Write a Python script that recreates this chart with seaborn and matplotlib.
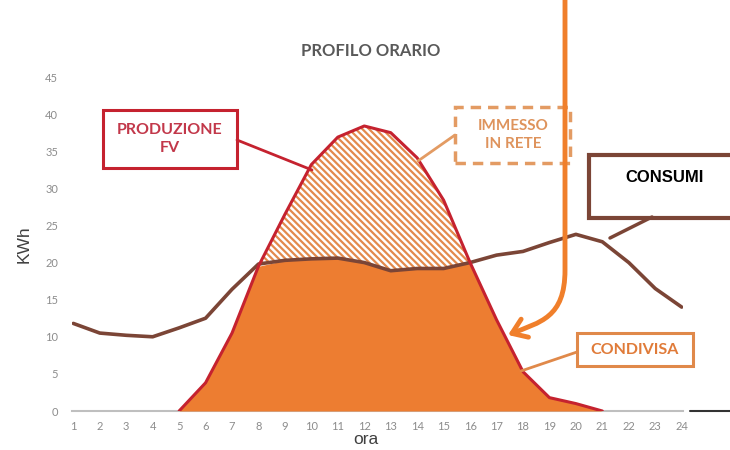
import numpy as np
import pandas as pd
import matplotlib
matplotlib.use("Agg")
import matplotlib.pyplot as plt
import seaborn as sns
from matplotlib.patches import Rectangle, FancyArrowPatch
from matplotlib.path import Path
from matplotlib.lines import Line2D

# ---- data ----
ore = list(range(1, 25))
produzione = [0, 0, 0, 0, 0, 3.8, 10.5, 19.5, 26.5, 33.2, 36.9, 38.4,
              37.5, 34.1, 28.4, 20.0, 12.3, 5.3, 1.8, 1.0, 0, 0, 0, 0]
consumi = [11.8, 10.5, 10.2, 10.0, 11.2, 12.5, 16.4, 19.8, 20.3, 20.5, 20.6, 20.0,
           18.9, 19.2, 19.2, 20.0, 21.0, 21.5, 22.7, 23.8, 22.8, 20.0, 16.5, 14.0]
yticks = list(range(0, 50, 5))
title = "PROFILO ORARIO"

df = pd.DataFrame({"ora": ore, "prod": produzione, "cons": consumi})
x = df["ora"].to_numpy(float)
p = df["prod"].to_numpy(float)
c = df["cons"].to_numpy(float)
shared = np.minimum(p, c)

sns.set_theme(style="white")
plt.rcParams["font.family"] = ["Lato", "DejaVu Sans"]
plt.rcParams["hatch.linewidth"] = 1.6
plt.rcParams["hatch.color"] = "#E38A4C"

W, H = 730, 450
fig = plt.figure(figsize=(7.3, 4.5), dpi=100)
ax = fig.add_axes([72 / W, 1 - 411 / H, (683 - 72) / W, (411 - 77) / H])

def fx(px):
    return px / W
def fy(py):
    return 1 - py / H

# fills
ax.fill_between(x, 0, shared, color="#ED7D31", linewidth=0, zorder=1)
ax.fill_between(x, c, p, where=p > c, interpolate=True, facecolor="white",
                edgecolor="#E38A4C", hatch="\\\\\\\\\\", linewidth=0, zorder=1)

# lines
mask = np.array([(p[i] > 0) or (i > 0 and p[i - 1] > 0) or (i < len(p) - 1 and p[i + 1] > 0)
                 for i in range(len(p))])
dprod = df[mask]
sns.lineplot(data=dprod, x="ora", y="prod", ax=ax, color="#C5222F", linewidth=2.2, zorder=4)
sns.lineplot(data=df, x="ora", y="cons", ax=ax, color="#7B4536", linewidth=2.6, zorder=3)

ax.set_xlim(0.95, 24.05)
ax.set_ylim(0, 45)
ax.set_xticks(ore)
ax.set_yticks(yticks)
ax.tick_params(axis="both", labelsize=8, colors="#8C8C8C", labelcolor="#8C8C8C")
ax.tick_params(axis="x", length=3, width=1, direction="out", pad=4, color="#BFBFBF")
ax.tick_params(axis="y", length=0, pad=10)
for s in ["top", "right", "left"]:
    ax.spines[s].set_visible(False)
ax.spines["bottom"].set_color("#BFBFBF")
ax.spines["bottom"].set_linewidth(1.5)
ax.spines["bottom"].set_zorder(0)
ax.set_xlabel("")
ax.set_ylabel("KWh", fontsize=12.5, color="#404040", family=["Liberation Sans"], labelpad=10)
ax.set_facecolor("none")
fig.text(fx(366), fy(439), "ora", ha="center", va="center", fontsize=12.5,
         color="#404040", family=["Liberation Sans"])

fig.text(fx(371), fy(51), title, ha="center", va="center", fontsize=12,
         fontweight="bold", color="#595959")

# PRODUZIONE FV box
fig.add_artist(Line2D([fx(237), fx(312)], [fy(140), fy(170)], color="#C5222F", lw=2))
fig.add_artist(Rectangle((fx(103), fy(168)), fx(237) - fx(103), fy(110) - fy(168),
                         fill=True, facecolor="white", edgecolor="#C5222F", lw=2.2))
fig.text(fx(170), fy(139), "PRODUZIONE\nFV", ha="center", va="center", fontsize=11.5,
         fontweight="bold", color="#C2384A", linespacing=1.3)

# IMMESSO IN RETE box
fig.add_artist(Line2D([fx(455), fx(418)], [fy(135), fy(161)], color="#E39B63", lw=2))
fig.add_artist(Rectangle((fx(455), fy(163)), fx(570) - fx(455), fy(107) - fy(163),
                         fill=True, facecolor="white", edgecolor="#E39B63", lw=2.5,
                         linestyle=(0, (3, 2))))
fig.text(fx(513), fy(135), "IMMESSO\nIN RETE", ha="center", va="center", fontsize=11,
         fontweight="bold", color="#DE935C", linespacing=1.3)

# CONSUMI box
fig.add_artist(Line2D([fx(610), fx(652)], [fy(238), fy(217)], color="#7B4536", lw=2.5))
fig.add_artist(Rectangle((fx(589), fy(218)), fx(740) - fx(589), fy(155) - fy(218),
                         fill=True, facecolor="white", edgecolor="#7B4536", lw=3))
fig.text(fx(665), fy(178), "CONSUMI", ha="center", va="center", fontsize=12,
         fontweight="bold", color="black", family=["Liberation Sans"])

# CONDIVISA box
fig.add_artist(Line2D([fx(577), fx(521)], [fy(352), fy(371)], color="#E0894A", lw=2))
fig.add_artist(Rectangle((fx(577), fy(366)), fx(693) - fx(577), fy(333) - fy(366),
                         fill=True, facecolor="white", edgecolor="#E0894A", lw=2.2))
fig.text(fx(635), fy(350), "CONDIVISA", ha="center", va="center", fontsize=11.5,
         fontweight="bold", color="#E07B39")

# orange arrow
verts = [(fx(565), fy(0)), (fx(565), fy(270)),
         (fx(565), fy(318)), (fx(540), fy(322)), (fx(508), fy(335))]
codes = [Path.MOVETO, Path.LINETO, Path.CURVE4, Path.CURVE4, Path.CURVE4]
arrow = FancyArrowPatch(path=Path(verts, codes), transform=fig.transFigure,
                        arrowstyle="->,head_length=10,head_width=7", color="#F07F2B",
                        lw=3.5, mutation_scale=1)
fig.add_artist(arrow)

# small dark segment at right bottom
fig.add_artist(Line2D([fx(690), fx(730)], [fy(411), fy(411)], color="#333333", lw=1.5))

fig.savefig("out.png", dpi=100)
